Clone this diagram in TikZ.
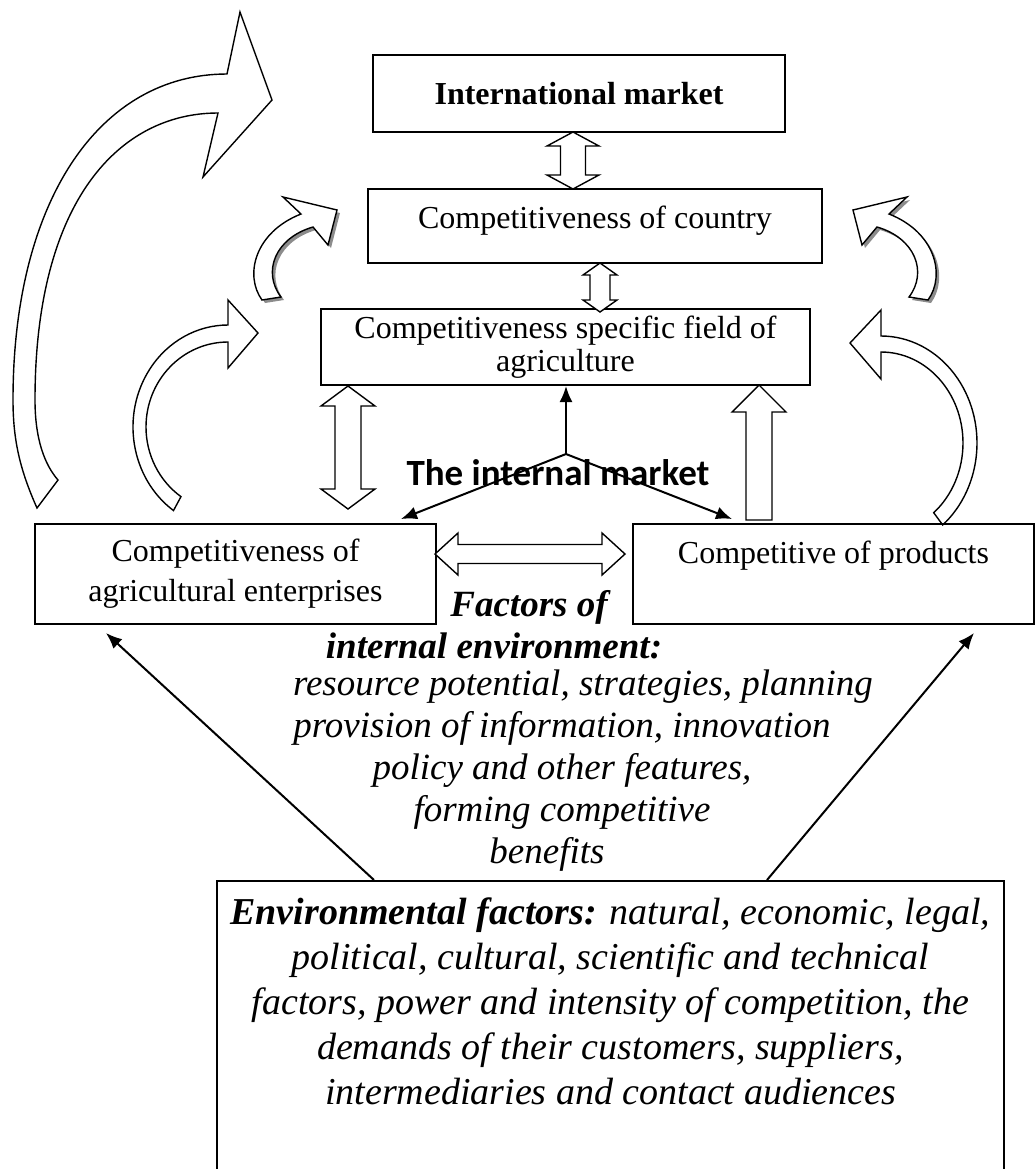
\documentclass[tikz,border=0pt]{standalone}
\usepackage{fontspec}
\setmainfont{Liberation Serif}
\newfontfamily\calibrifont{Carlito}
\usetikzlibrary{arrows.meta, calc}
\tikzset{>={Latex[length=8pt,width=6.5pt]}}

% vertical block arrow with two heads: x, top, bottom, head half width, shaft half width, head length
\newcommand{\vbiarrow}[6]{%
  \draw[blockarr] (#1,#2) -- ({#1+#4},{#2+#6}) -- ({#1+#5},{#2+#6}) -- ({#1+#5},{#3-#6})
    -- ({#1+#4},{#3-#6}) -- (#1,#3) -- ({#1-#4},{#3-#6}) -- ({#1-#5},{#3-#6})
    -- ({#1-#5},{#2+#6}) -- ({#1-#4},{#2+#6}) -- cycle;}

\begin{document}
\begin{tikzpicture}[x=0.5pt, y=-0.5pt,
  box/.style={draw, line width=1pt, align=center, inner sep=0pt, font=\fontsize{16}{20}\selectfont},
  blockarr/.style={draw, line width=0.7pt, fill=white, line join=miter},
  shadowed/.style={preaction={fill=black!45, transform canvas={shift={(1.5pt,-1.5pt)}}}},
  link/.style={->, line width=1pt}]
  \useasboundingbox (0,0) rectangle (1036,1169);

  % big curved arrow on the left
  \draw[blockarr] (37,508) .. controls (20,470) and (13,440) .. (13,400)
    .. controls (13,200) and (100,74) .. (227,74) -- (240,12) -- (272,100) -- (203,177) -- (218,113)
    .. controls (120,113) and (35,200) .. (35,400) .. controls (35,440) and (45,465) .. (58,480) -- cycle;

  % small curved arrows beside the country
  \draw[blockarr, shadowed] (262,300) .. controls (244,275) and (255,232) .. (301,214)
    -- (283,197) -- (337,210) -- (328,245) -- (313,227)
    .. controls (275,238) and (262,272) .. (281,297) -- cycle;
  \draw[blockarr, shadowed] (928,300) .. controls (946,275) and (935,232) .. (889,214)
    -- (907,197) -- (853,210) -- (862,245) -- (877,227)
    .. controls (915,238) and (928,272) .. (909,297) -- cycle;

  % curved arrows towards the field
  \draw[blockarr] (228,325) -- (228,300) -- (258,333) -- (228,368) -- (228,342)
    arc[start angle=270, end angle=125, x radius=82, y radius=85]
    -- ($(228,427)+(125:95 and 102)$) arc[start angle=125, end angle=270, x radius=95, y radius=102] -- cycle;
  \draw[blockarr] (881,336) -- (881,310) -- (850,343) -- (881,379) -- (881,352)
    arc[start angle=270, end angle=410, x radius=82, y radius=91]
    -- ($(881,443)+(410:96 and 107)$) arc[start angle=410, end angle=270, x radius=96, y radius=107] -- cycle;

  % boxes
  \node[box, minimum width=206pt, minimum height=38.5pt, font=\fontsize{16}{20}\selectfont\bfseries] (intl) at (579,93.5) {International market};
  \node[box, minimum width=227pt, minimum height=37pt, text depth=9pt] (country) at (595,226) {Competitiveness of country};
  \node[box, minimum width=244.5pt, minimum height=38pt, font=\fontsize{16}{16.5}\selectfont] (field) at (565.5,347) {Competitiveness specific field of\\agriculture};
  \node[box, minimum width=200.5pt, minimum height=50pt] (ent) at (235.5,574) {Competitiveness of\\agricultural enterprises};
  \node[box, minimum width=200.5pt, minimum height=50pt, text depth=22pt] (prod) at (833.5,574) {Competitive of products};
  \node[draw, line width=1pt, minimum width=393.5pt, minimum height=160pt, anchor=north, inner sep=0pt] (env) at (610.5,880) {};

  % block arrows between the boxes
  \vbiarrow{573}{132}{189}{26}{12.5}{14}
  \vbiarrow{600}{263}{312}{17}{10}{12}
  \vbiarrow{348}{386}{509}{27}{13}{20}
  \draw[blockarr] (759,385) -- (786,412) -- (772,412) -- (772,520) -- (746,520) -- (746,412) -- (732,412) -- cycle;
  \draw[blockarr] (435,554) -- (458,533) -- (458,544.5) -- (602,544.5) -- (602,533) -- (625,554)
    -- (602,575) -- (602,563.5) -- (458,563.5) -- (458,575) -- cycle;

  % internal market
  \node[font=\calibrifont\bfseries\fontsize{18.5}{20}\selectfont] (inmarket) at (558,473) {The internal market};
  \coordinate (hub) at (566,454);
  \draw[link] (hub) -- (hub |- field.south);
  \draw[link] (hub) -- ($(ent.north east)+(-36,-4)$);
  \draw[link] (hub) -- ($(prod.north west)+(100,-4)$);

  % factors
  \node[font=\fontsize{18.5}{21}\selectfont\bfseries\itshape, align=center] (facthead) at (494,625) {\hspace*{35pt}Factors of\\internal environment:};
  \node[font=\fontsize{18.5}{21}\selectfont\itshape, align=center] (factlist) at (562,771) {\hspace*{21pt}resource potential, strategies, planning\\
    provision of information, innovation\\ policy and other features,\\ forming competitive\\ benefits\hspace*{15pt}};
  \node[font=\fontsize{19}{22.5}\selectfont\itshape, align=center] (envtext) at (610.5,1001) {\textbf{Environmental factors:} natural, economic, legal,\\
    political, cultural, scientific and technical\\ factors, power and intensity of competition, the\\
    demands of their customers, suppliers,\\ intermediaries and contact audiences};
  \draw[link] ($(env.north west)+(158,0)$) -- ($(ent.south west)+(72,8)$);
  \draw[link] ($(env.north west)+(551,0)$) -- ($(prod.south west)+(342,8)$);
\end{tikzpicture}
\end{document}
